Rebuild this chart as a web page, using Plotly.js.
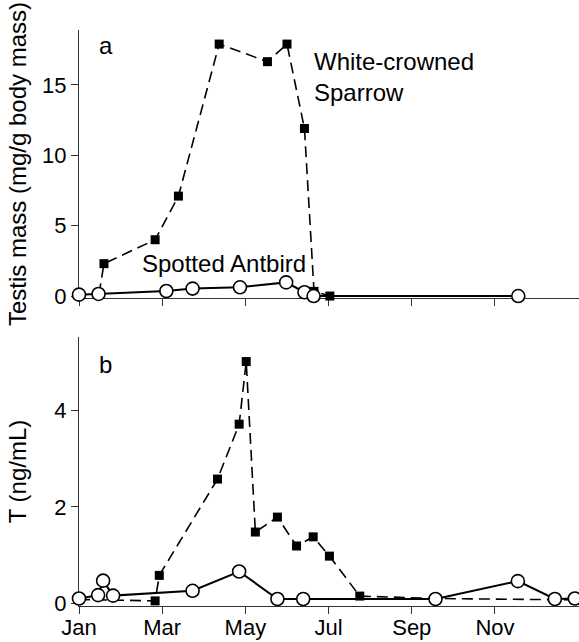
<!DOCTYPE html>
<html>
<head>
<meta charset="utf-8">
<script src="https://cdn.plot.ly/plotly-3.0.1.min.js"></script>
<style>html,body{margin:0;padding:0;background:#fff;}#chart{width:579px;height:642px;}</style>
</head>
<body>
<div id="chart"></div>
<script>
// x values are in months since 1 January (0 = Jan, 2 = Mar, ...)
const monthTickVals = [0, 2, 4, 6, 8, 10];
const monthTickText = ["Jan", "Mar", "May", "Jul", "Sep", "Nov"];

// Panel a: testis mass (mg/g body mass)
const sparrowTestisX = [0.48, 0.60, 1.83, 2.39, 3.37, 4.53, 5.00, 5.42, 5.65, 6.03];
const sparrowTestisY = [0.12, 2.3, 4.0, 7.1, 17.9, 16.65, 17.9, 11.9, 0.33, 0.0];
const antbirdTestisX = [0.0, 0.47, 2.10, 2.73, 3.87, 4.98, 5.42, 5.64, 10.56];
const antbirdTestisY = [0.1, 0.15, 0.36, 0.53, 0.62, 0.97, 0.27, 0.0, 0.0];

// Panel b: T (ng/mL)
const sparrowTX = [0.0, 1.83, 1.93, 3.33, 3.85, 4.02, 4.24, 4.77, 5.23, 5.63, 6.02, 6.75, 8.6, 11.92];
const sparrowTY = [0.08, 0.05, 0.58, 2.58, 3.72, 5.02, 1.48, 1.79, 1.19, 1.38, 0.98, 0.15, 0.1, 0.07];
const antbirdTX = [0.0, 0.46, 0.58, 0.82, 2.73, 3.85, 4.77, 5.39, 8.57, 10.55, 11.44, 11.92];
const antbirdTY = [0.10, 0.17, 0.47, 0.16, 0.26, 0.66, 0.09, 0.09, 0.09, 0.46, 0.09, 0.10];

const FONT = '"Liberation Sans", Arial, Helvetica, sans-serif';

const sparrowStyle = {
  mode: 'lines+markers',
  line: {color: '#000', width: 1.6, dash: '11px,6px'},
  marker: {symbol: 'square', size: 9, color: '#000', line: {width: 0}},
  cliponaxis: false
};
const antbirdStyle = {
  mode: 'lines+markers',
  line: {color: '#000', width: 2},
  marker: {symbol: 'circle', size: 13, color: '#fff', line: {color: '#000', width: 1.6}},
  cliponaxis: false
};

const traces = [
  Object.assign({x: sparrowTestisX, y: sparrowTestisY, xaxis: 'x', yaxis: 'y', name: 'White-crowned Sparrow'}, sparrowStyle),
  Object.assign({x: antbirdTestisX, y: antbirdTestisY, xaxis: 'x', yaxis: 'y', name: 'Spotted Antbird'}, antbirdStyle),
  Object.assign({x: sparrowTX, y: sparrowTY, xaxis: 'x2', yaxis: 'y2', name: 'White-crowned Sparrow'}, sparrowStyle),
  Object.assign({x: antbirdTX, y: antbirdTY, xaxis: 'x2', yaxis: 'y2', name: 'Spotted Antbird'}, antbirdStyle)
];

const xBase = {
  range: [0, 12.02], tickvals: monthTickVals, ticktext: monthTickText,
  ticks: 'outside', ticklen: 7, tickwidth: 1, tickcolor: '#333',
  showline: true, linecolor: '#333', linewidth: 1,
  showgrid: false, zeroline: false, layer: 'below traces',
  tickfont: {family: FONT, size: 22, color: '#000'}
};
const yBase = {
  ticks: 'outside', ticklen: 7, tickwidth: 1, tickcolor: '#333',
  showline: true, linecolor: '#333', linewidth: 1,
  showgrid: false, zeroline: false, layer: 'below traces',
  tickfont: {family: FONT, size: 22, color: '#000'}
};

const layout = {
  width: 579, height: 642,
  margin: {l: 79, r: 0, t: 30, b: 36, pad: 0},
  paper_bgcolor: '#fff', plot_bgcolor: '#fff',
  showlegend: false,
  font: {family: FONT, size: 22, color: '#000'},
  xaxis: Object.assign({}, xBase, {anchor: 'y', showticklabels: false}),
  yaxis: Object.assign({}, yBase, {
    domain: [0.5347, 1], range: [-0.14, 18.9], tickvals: [0, 5, 10, 15],
    title: {text: 'Testis mass (mg/g body mass)', font: {family: FONT, size: 24, color: '#000'}, standoff: 8}
  }),
  xaxis2: Object.assign({}, xBase, {anchor: 'y2', ticklabelstandoff: -5}),
  yaxis2: Object.assign({}, yBase, {
    domain: [0, 0.467], range: [-0.056, 5.53], tickvals: [0, 2, 4],
    title: {text: 'T (ng/mL)', font: {family: FONT, size: 24, color: '#000'}, standoff: 20}
  }),
  annotations: [
    {xref: 'x', yref: 'y', x: 0.44, y: 17.8, text: 'a', showarrow: false, xanchor: 'left', yanchor: 'middle', font: {family: FONT, size: 24}},
    {xref: 'x2', yref: 'y2', x: 0.44, y: 4.95, text: 'b', showarrow: false, xanchor: 'left', yanchor: 'middle', font: {family: FONT, size: 24}},
    {xref: 'x', yref: 'y', x: 5.6, y: 15.55, text: 'White-crowned<br>Sparrow', align: 'left', showarrow: false, xanchor: 'left', yanchor: 'middle', font: {family: FONT, size: 24}},
    {xref: 'x', yref: 'y', x: 1.47, y: 2.3, text: 'Spotted Antbird', showarrow: false, xanchor: 'left', yanchor: 'middle', font: {family: FONT, size: 24}}
  ]
};

Plotly.newPlot('chart', traces, layout, {staticPlot: true, displayModeBar: false});
</script>
</body>
</html>
